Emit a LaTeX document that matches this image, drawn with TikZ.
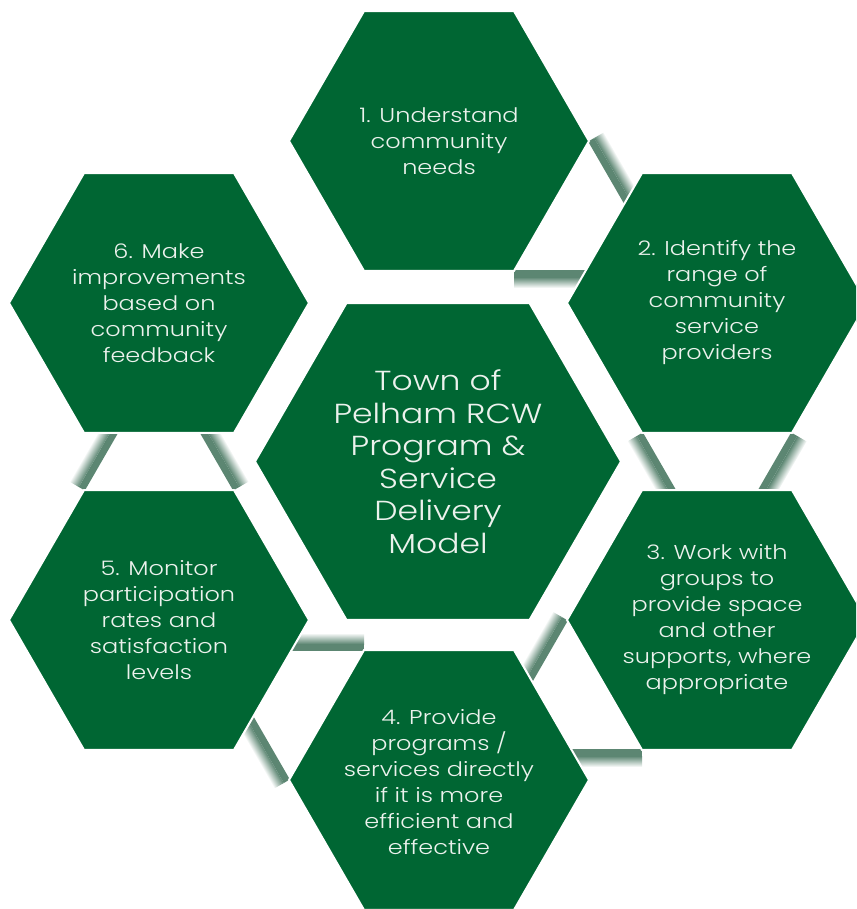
\documentclass[tikz,border=0pt]{standalone}
\usepackage{fontspec}
\usetikzlibrary{shapes.geometric}
\setmainfont{Poppins Light}[FakeStretch=1.2]
\definecolor{hexgreen}{RGB}{0,102,51}
\definecolor{stripcol}{RGB}{92,134,114}
\definecolor{hextext}{RGB}{236,242,237}

% A shadowed strip running on from a hexagon vertex:
% #1,#2 = vertex, #3 = direction angle, #4 = +1/-1 side of the band
\newcommand\gapstrip[4]{%
  \begin{scope}[transform canvas={shift={(#1,#2)},rotate=#3,yscale=#4}]
    \fill[stripcol] (0,-1) rectangle (88,6);
    \shade[bottom color=stripcol,top color=white] (0,6) rectangle (88,17);
  \end{scope}}

\begin{document}
\begin{tikzpicture}[x=1pt,y=1pt,
  hexbox/.style={regular polygon,regular polygon sides=6,shape border rotate=0,
    minimum size=#1,inner sep=0pt,fill=hexgreen,draw=white,line width=2pt},
  hexbox/.default=300pt,
  steptext/.style={text=hextext,align=center,font=\fontsize{20}{26}\selectfont},
  hubtext/.style={text=hextext,align=center,font=\fontsize{27.5}{32.5}\selectfont}]
\useasboundingbox (0,0) rectangle (856,-909);
\clip (0,0) rectangle (856,-909);

% shadow strips between neighbouring steps
\gapstrip{589}{-141}{-60}{1}
\gapstrip{514}{-271}{0}{-1}
\gapstrip{642}{-433}{-60}{-1}
\gapstrip{792}{-433}{-120}{1}
\gapstrip{567}{-620}{-120}{-1}
\gapstrip{642}{-750}{180}{1}
\gapstrip{364}{-650}{180}{-1}
\gapstrip{289}{-780}{120}{1}
\gapstrip{84}{-490}{60}{1}
\gapstrip{234}{-490}{120}{-1}

% the six steps
\node[hexbox] (s1) at (439,-141) {};
\node[hexbox] (s2) at (717,-303) {};
\node[hexbox] (s3) at (717,-620) {};
\node[hexbox] (s4) at (439,-780) {};
\node[hexbox] (s5) at (159,-620) {};
\node[hexbox] (s6) at (159,-303) {};
% the hub
\node[hexbox=366pt] (hub) at (438,-461.5) {};

\node[steptext] (t1) at (s1.center) {1. Understand\\community\\needs};
\node[steptext] (t2) at (s2.center) {2. Identify the\\range of\\community\\service\\providers};
\node[steptext] (t3) at (s3.center) {3. Work with\\groups to\\provide space\\and other\\supports, where\\appropriate};
\node[steptext] (t4) at ([yshift=-2pt]s4.center) {4. Provide\\programs /\\services directly\\if it is more\\efficient and\\effective};
\node[steptext] (t5) at (s5.center) {5. Monitor\\participation\\rates and\\satisfaction\\levels};
\node[steptext] (t6) at (s6.center) {6. Make\\improvements\\based on\\community\\feedback};
\node[hubtext] (th) at (hub.center) {Town of\\Pelham RCW\\Program \&\\Service\\Delivery\\Model};
\end{tikzpicture}
\end{document}
